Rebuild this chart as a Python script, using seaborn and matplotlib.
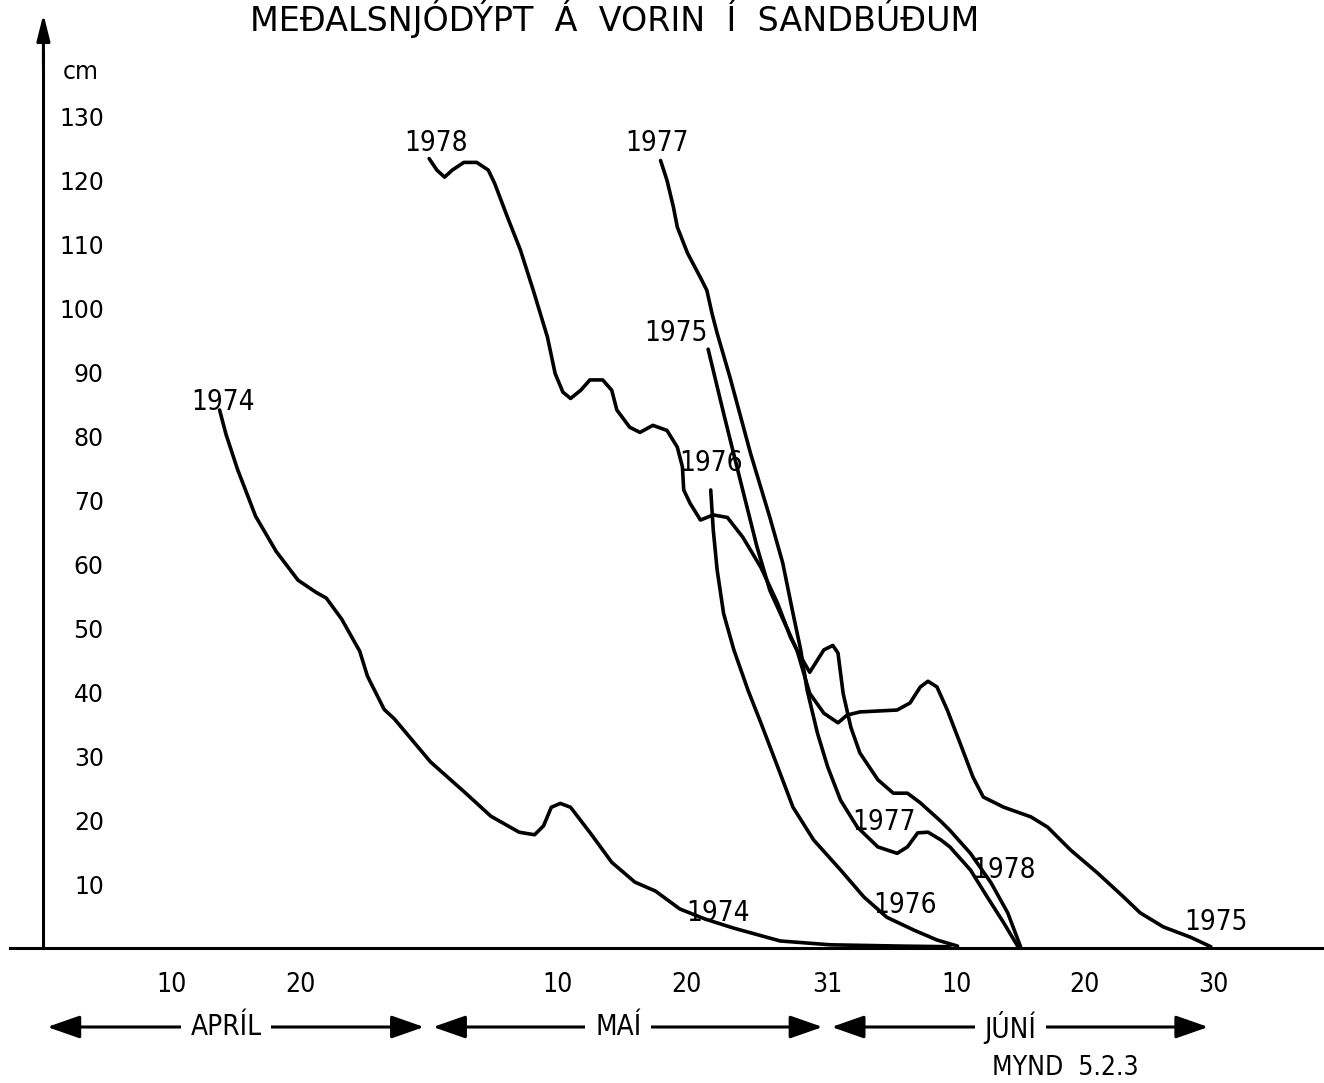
import pandas as pd
import matplotlib
matplotlib.use("Agg")
import matplotlib.pyplot as plt
import seaborn as sns
from matplotlib import font_manager

# day 0 = 31 March, day 30 = 30 April, day 61 = 31 May, day 91 = 30 June
day_1974 = [13.7, 14.2, 15.1, 16.5, 18.1, 19.8, 21.2, 22.0, 23.2, 24.6, 25.2, 26.5, 27.3,
            30.1, 32.9, 34.8, 37.0, 38.2, 38.9, 39.5, 40.2, 41.0, 42.6, 44.2, 46.0, 47.6,
            49.5, 51.5, 53.7, 57.3, 61.2, 66.7, 70.5]
cm_1974 = [84.1, 80.3, 74.8, 67.5, 62.0, 57.5, 55.6, 54.7, 51.4, 46.4, 42.5, 37.3, 35.8,
           29.1, 24.1, 20.6, 18.1, 17.7, 19.1, 22.0, 22.6, 22.0, 17.8, 13.4, 10.3, 8.9,
           6.1, 4.5, 3.1, 1.1, 0.5, 0.3, 0.2]

day_1975 = [51.7, 52.9, 54.2, 55.5, 56.5, 57.9, 58.6, 59.6, 60.7, 61.8, 62.5, 63.5, 66.4,
            67.4, 68.2, 68.8, 69.5, 70.3, 71.3, 72.3, 73.1, 74.7, 76.8, 78.1, 79.9, 82.0,
            84.0, 85.3, 87.1, 89.2, 90.8]
cm_1975 = [93.6, 83.6, 73.1, 62.7, 55.9, 49.7, 46.6, 39.8, 36.7, 35.2, 36.4, 36.9, 37.2,
           38.3, 40.8, 41.7, 40.8, 37.2, 32.0, 26.7, 23.6, 22.0, 20.5, 18.9, 15.3, 11.7,
           8.0, 5.5, 3.3, 1.7, 0.2]

day_1976 = [51.9, 52.1, 52.4, 52.9, 53.7, 54.8, 55.8, 57.3, 58.3, 59.9, 62.0, 63.8, 65.6,
            67.7, 69.5, 71.1]
cm_1976 = [71.6, 65.3, 59.1, 52.3, 46.6, 40.3, 35.2, 27.3, 22.0, 16.9, 12.2, 8.0, 4.8,
           2.8, 1.25, 0.3]

day_1977 = [48.0, 48.5, 49.0, 49.3, 50.1, 51.1, 51.6, 52.0, 52.4, 53.4, 55.0, 56.5, 57.5,
            58.3, 58.9, 59.4, 60.2, 61.0, 62.0, 63.3, 64.9, 66.4, 67.2, 68.0, 68.8, 69.8,
            70.5, 72.1, 73.4, 74.7, 75.8]
cm_1977 = [123.1, 120.0, 115.8, 112.7, 108.6, 104.8, 102.8, 99.2, 96.1, 89.2, 77.3, 67.3,
           60.2, 52.3, 46.6, 40.3, 33.6, 28.3, 23.1, 18.9, 15.8, 14.8, 15.8, 18.0, 18.1,
           16.9, 15.8, 12.2, 8.0, 3.9, 0.2]

day_1978 = [30.0, 30.6, 31.2, 31.8, 32.7, 33.7, 34.6, 35.1, 36.1, 37.1, 38.1, 39.2, 39.8,
            40.4, 41.0, 41.8, 42.5, 43.5, 44.2, 44.6, 45.6, 46.4, 47.4, 48.5, 49.3, 49.7,
            49.8, 50.3, 51.1, 52.1, 53.2, 54.4, 55.8, 57.1, 58.1, 58.6, 59.6, 60.7, 61.4,
            61.8, 62.2, 62.8, 63.5, 64.9, 66.1, 67.2, 68.2, 69.8, 70.5, 72.1, 73.7, 75.0, 76.0]
cm_1978 = [123.4, 121.6, 120.5, 121.6, 122.8, 122.8, 121.6, 119.5, 114.2, 109.1, 102.8,
           95.5, 89.8, 86.9, 85.9, 87.2, 88.8, 88.8, 87.2, 84.1, 81.4, 80.6, 81.7, 80.9,
           78.3, 75.2, 71.6, 69.5, 66.9, 67.7, 67.3, 64.2, 59.5, 53.9, 48.6, 46.6, 43.1,
           46.6, 47.3, 46.1, 39.8, 34.5, 30.5, 26.3, 24.2, 24.2, 22.7, 19.8, 18.4, 14.8,
           10.2, 5.5, 0.2]

years = ["1974", "1975", "1976", "1977", "1978"]
days = [day_1974, day_1975, day_1976, day_1977, day_1978]
depths = [cm_1974, cm_1975, cm_1976, cm_1977, cm_1978]

tick_days = [10, 20, 30, 40, 50, 61, 71, 81, 91]
tick_labels = ["10", "20", "", "10", "20", "31", "10", "20", "30"]
cm_ticks = list(range(10, 140, 10))

months = ["APRÍL", "MAÍ", "JÚNÍ"]
month_start = [0, 30, 61]
month_end = [30, 61, 91]

# year labels written next to the curves: (text, day, cm)
curve_labels = [("1978", 30.5, 125.9), ("1977", 47.7, 125.8), ("1975", 49.2, 96.2),
                ("1974", 14.0, 85.3), ("1976", 51.9, 75.8), ("1974", 52.5, 5.5),
                ("1976", 67.0, 6.7), ("1977", 65.4, 19.7), ("1978", 74.7, 12.2),
                ("1975", 91.2, 4.1)]

df = pd.concat([pd.DataFrame({"day": d, "cm": c, "year": y})
                for y, d, c in zip(years, days, depths)], ignore_index=True)

sns.set_style("white")
plt.rcParams["font.family"] = ["DejaVu Sans"]
for key in ["text.color", "axes.edgecolor", "xtick.color", "ytick.color", "axes.labelcolor"]:
    plt.rcParams[key] = "black"
installed = {f.name for f in font_manager.fontManager.ttflist}
narrow = "Liberation Sans Narrow" if "Liberation Sans Narrow" in installed else "DejaVu Sans"
stretch = "normal" if narrow == "Liberation Sans Narrow" else "condensed"

fig = plt.figure(figsize=(13.24, 10.83), dpi=100)
ax = fig.add_axes([10 / 1324, 135 / 1083, 1314 / 1324, 934 / 1083])

sns.lineplot(data=df, x="day", y="cm", hue="year", palette=["black"] * 5,
             estimator=None, sort=False, legend=False, lw=2.6,
             solid_joinstyle="round", solid_capstyle="round", ax=ax)

ax.set_xlim(-2.6, 99.6)
ax.set_ylim(0, 146)
ax.set_xlabel("")
ax.set_ylabel("")
for s in ["top", "right"]:
    ax.spines[s].set_visible(False)
ax.spines["left"].set_position(("data", 0))
ax.spines["left"].set_bounds(0, 140)
ax.spines["left"].set_linewidth(2.2)
ax.spines["bottom"].set_linewidth(2.2)

ax.set_xticks(tick_days)
ax.set_xticklabels(tick_labels, fontfamily=narrow, fontstretch=stretch, fontsize=19)
ax.tick_params(axis="x", direction="inout", length=12, width=1.5, pad=11)
ax.set_yticks(cm_ticks)
ax.set_yticklabels([str(v) for v in cm_ticks], fontsize=17)
ax.tick_params(axis="y", direction="inout", length=11, width=1.5, pad=-49)

# arrow on the y axis
ax.annotate("", xy=(0, 146), xytext=(0, 138),
            arrowprops=dict(arrowstyle="-|>,head_length=0.8,head_width=0.2",
                            color="black", lw=2.2, mutation_scale=20,
                            shrinkA=0, shrinkB=0), annotation_clip=False)
ax.text(2.9, 137, "cm", ha="center", va="center", fontsize=17)

for txt, d, c in curve_labels:
    ax.text(d, c, txt, ha="center", va="center", fontfamily=narrow,
            fontstretch=stretch, fontsize=20)

# month bands under the axis
yf = 1 - 1027 / 1083
for name, s, e in zip(months, month_start, month_end):
    ax.annotate("", xy=(s + 0.3, yf), xytext=(e - 0.4, yf),
                xycoords=("data", "figure fraction"),
                textcoords=("data", "figure fraction"),
                arrowprops=dict(arrowstyle="<|-|>,head_length=1.0,head_width=0.35",
                                color="black", lw=2.2, mutation_scale=20,
                                shrinkA=0, shrinkB=0), annotation_clip=False)
    ax.annotate(name, xy=((s + e) / 2 - 0.8, yf), xycoords=("data", "figure fraction"),
                ha="center", va="center", fontfamily=narrow, fontstretch=stretch,
                fontsize=20, bbox=dict(boxstyle="square,pad=0.35", fc="white", ec="none"),
                annotation_clip=False)

fig.text(1065 / 1324, 1 - 1068 / 1083, "MYND  5.2.3", ha="center", va="center",
         fontfamily=narrow, fontstretch=stretch, fontsize=19)
fig.text(615 / 1324, 1 - 31 / 1083, "MEÐALSNJÓDÝPT  Á  VORIN  Í  SANDBÚÐUM",
         ha="center", va="baseline", fontsize=24)

fig.savefig("out.png", dpi=100)
